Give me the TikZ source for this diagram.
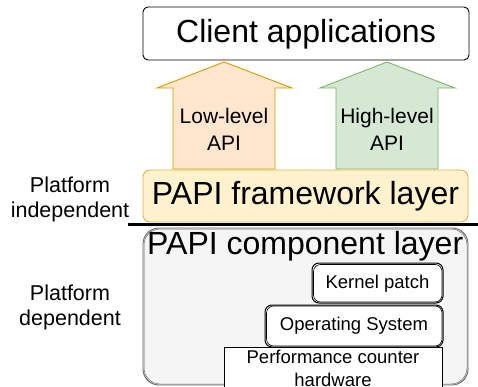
\documentclass[tikz,border=0pt]{standalone}
\usepackage{fontspec}
\setmainfont{Liberation Sans}
\usetikzlibrary{positioning,calc}
\definecolor{lowfill}{RGB}{255,230,204}
\definecolor{lowline}{RGB}{215,155,0}
\definecolor{highfill}{RGB}{213,232,212}
\definecolor{highline}{RGB}{130,179,102}
\definecolor{fwfill}{RGB}{255,242,204}
\definecolor{fwline}{RGB}{214,182,86}
\definecolor{compfill}{RGB}{245,245,245}
\definecolor{compline}{RGB}{102,102,102}
\tikzset{
  bigtxt/.style={font=\fontsize{32}{36}\selectfont},
  apitxt/.style={font=\fontsize{21}{27}\selectfont, align=center},
  sidetxt/.style={font=\fontsize{21.5}{25}\selectfont, align=center},
  hwtxt/.style={font=\fontsize{18.5}{23}\selectfont, align=center},
  sketchbox/.style={draw=black, fill=white, line width=1pt, rounded corners=7pt},
}

\begin{document}
\begin{tikzpicture}[x=1pt,y=-1pt]
\useasboundingbox (0,0) rectangle (478,387);
\clip (0,0) rectangle (478,387);

% arrows behind the top box
\draw[lowline, fill=lowfill, line width=0.9pt]
  (173,169) -- (173,88) -- (157,88) -- (224,62) -- (292,88) -- (275,88) -- (275,169) -- cycle;
\draw[highline, fill=highfill, line width=0.9pt]
  (336,169) -- (336,88) -- (320,88) -- (387,62) -- (455,88) -- (438,88) -- (438,169) -- cycle;
\node[apitxt] (lowapi) at (224,129) {Low-level\\API};
\node[apitxt] (highapi) at (387,129) {High-level\\API};

% top box
\draw[black, fill=white, line width=0.9pt, rounded corners=5pt] (143,7) rectangle (469,60);
\node[bigtxt] (client) at (306,34) {Client applications};

% framework layer
\draw[fwline, fill=fwfill, line width=0.9pt, rounded corners=7pt] (143,170) rectangle (468,222);
\node[bigtxt] (framework) at (305.5,196) {PAPI framework layer};

% divider
\draw[black, line width=2.4pt] (128,224.5) -- (478,224.5);

% component layer
\draw[compline, fill=compfill, line width=0.9pt, rounded corners=16pt] (143,228) rectangle (468,385);
\draw[compline, line width=0.5pt, rounded corners=16pt] (144,229) rectangle (467,384);
\node[bigtxt, anchor=north west, inner sep=0pt] (component) at (147,231) {PAPI component layer};

% stacked layers
\draw[sketchbox] (312,263) rectangle (443,303);
\draw[line width=0.6pt, rounded corners=7pt] (313.5,264.5) rectangle (442,302);
\node[hwtxt] (kernel) at (377.5,284) {Kernel patch};
\draw[sketchbox] (265,305) rectangle (443,347);
\draw[line width=0.6pt, rounded corners=7pt] (266.5,306) rectangle (442,346);
\node[hwtxt] (os) at (354,326) {Operating System};
\draw[black, fill=white, line width=0.9pt] (224,347) rectangle (442,400);
\node[hwtxt] (hw) at (333,368) {Performance counter\\hardware};

% side labels
\node[sidetxt] (indep) at (70,199) {Platform\\independent};
\node[sidetxt] (dep) at (70,307) {Platform\\dependent};
\end{tikzpicture}
\end{document}
